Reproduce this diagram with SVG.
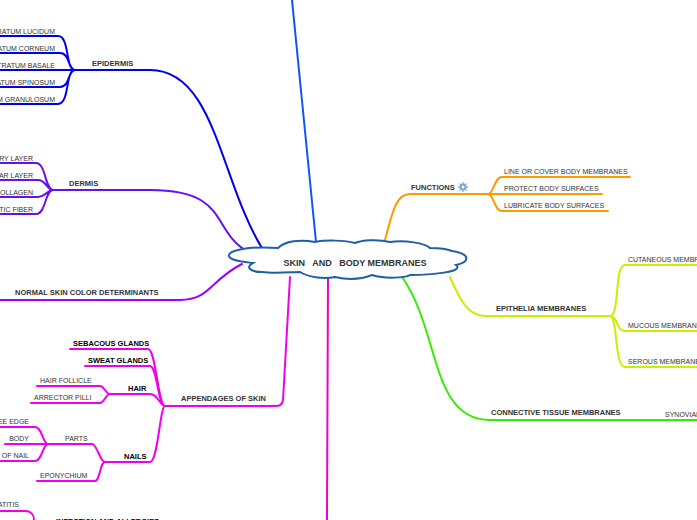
<svg xmlns="http://www.w3.org/2000/svg" width="697" height="520" viewBox="0 0 697 520">
<style>
text{font-family:"Liberation Sans",Arial,sans-serif;font-size:7px;fill:#333}
.b{font-weight:bold;font-size:7.5px}
.c path{fill:none;stroke-width:2;stroke-linecap:round}
.ep{stroke:#0000ee}.de{stroke:#6610f2}.ns{stroke:#a000ff}.ap{stroke:#ee00ee}.fu{stroke:#ff9900}.eh{stroke:#ccee00}.ct{stroke:#33ee00}.tp{stroke:#1155ee}.bt{stroke:#ee00cc}
</style>
<rect width="697" height="520" fill="#fff"/>
<g id="connectors" class="c">
<path class="tp" d="M316,242 L292,0"/>
<path class="bt" d="M328,278 L327,520"/>
<path class="ep" d="M262,248 C220,180 215,70 150,70 L75,70"/>
<path class="ep" d="M0,36 H58 C70,36 65,70 75,70 M0,53 H60 C70,53 68,70 75,70 M0,70 H75 M0,87 H60 C70,87 68,70 75,70 M0,104 H58 C70,104 65,70 75,70"/>
<path class="de" d="M248,252 C210,230 230,190 150,190 L53,190"/>
<path class="de" d="M0,163 H36 C46,163 45,190 53,190 M0,180 H38 C46,180 47,190 53,190 M0,197 H38 C46,197 47,190 53,190 M0,214 H36 C46,214 45,190 53,190"/>
<path class="ns" d="M242,264 C210,280 210,300 180,300 L0,300"/>
<path class="ap" d="M290,277 L283,400 C282,405 280,406 275,406 L165,406"/>
<path class="ap" d="M70,349 H148 C156,349 158,406 165,406 M85,366 H150 C157,366 158,406 165,406 M150,394 C158,394 160,406 165,406 M110,394 H150 M37,386 H100 C104,386 106,394 110,394 M31,403 H100 C104,403 106,394 110,394 M150,462 C158,462 160,406 165,406 M105,462 H150 M37,481 H95 C100,481 100,462 105,462 M62,444 H92 C97,444 100,462 105,462 M48,444 H62 M0,427 H35 C42,427 43,444 48,444 M5,444 H48 M0,461 H35 C42,461 43,444 48,444"/>
<path class="ap" d="M0,511 H25 C32,511 34,516 34,520"/>
<path class="fu" d="M385,240 C392,215 395,194 410,194 L488,194"/>
<path class="fu" d="M488,194 C494,194 494,177 502,177 H630 M488,194 H602 M488,194 C494,194 494,211 502,211 H608"/>
<path class="eh" d="M450,277 C460,300 468,316 485,316 L610,316"/>
<path class="eh" d="M610,316 C620,316 614,265 625,265 H697 M610,316 C618,316 616,331 625,331 H697 M610,316 C618,316 614,367 625,367 H697"/>
<path class="ct" d="M402,277 C440,330 430,420 490,420 L697,420"/>
</g>
<g id="center">
<path d="M278,248 C250,246 228,250 229,256 C230,261 245,262 253,263 C245,267 250,272 262,272 C275,274 292,272 300,272 C310,278 325,279 335,277 C348,280 362,279 372,275 C385,279 405,278 410,275 C430,275 465,272 456,265 C470,262 471,254 452,251 C445,248 435,248 430,248 C425,243 405,240 390,242 C378,239 362,240 355,243 C345,240 325,240 315,242 C300,239 285,241 278,248 Z" fill="#fff" stroke="#1f5fa8" stroke-width="2"/>
<text x="355" y="266" text-anchor="middle" class="b" style="font-size:9px" xml:space="preserve">SKIN   AND   BODY MEMBRANES</text>
</g>
<g id="epidermis"><text x="92" y="66" class="b">EPIDERMIS</text>
<text x="55" y="34" text-anchor="end">STRATUM LUCIDUM</text><text x="55" y="51" text-anchor="end">STRATUM CORNEUM</text><text x="55" y="68" text-anchor="end">STRATUM BASALE</text><text x="55" y="85" text-anchor="end">STRATUM SPINOSUM</text><text x="55" y="102" text-anchor="end">STRATUM GRANULOSUM</text></g>
<g id="dermis"><text x="69" y="186" class="b">DERMIS</text>
<text x="33" y="161" text-anchor="end">PAPILLARY LAYER</text><text x="33" y="178" text-anchor="end">RETICULAR LAYER</text><text x="33" y="195" text-anchor="end">COLLAGEN</text><text x="33" y="212" text-anchor="end">ELASTIC FIBER</text></g>
<g id="normal"><text x="15" y="295" class="b">NORMAL SKIN COLOR DETERMINANTS</text></g>
<g id="appendages"><text x="181" y="401" class="b">APPENDAGES OF SKIN</text>
<text x="73" y="346" class="b" style="fill:#000">SEBACOUS GLANDS</text><text x="88" y="363" class="b" style="fill:#000">SWEAT GLANDS</text>
<text x="128" y="391" class="b" style="fill:#000">HAIR</text><text x="40" y="383">HAIR FOLLICLE</text><text x="34" y="400">ARRECTOR PILLI</text>
<text x="124" y="459" class="b" style="fill:#000">NAILS</text><text x="65" y="441">PARTS</text><text x="40" y="478">EPONYCHIUM</text>
<text x="29" y="424" text-anchor="end">FREE EDGE</text><text x="29" y="441" text-anchor="end">BODY</text><text x="29" y="458" text-anchor="end">ROOT OF NAIL</text></g>
<g id="infection"><text x="19" y="507" text-anchor="end">DERMATITIS</text><text x="56" y="524" class="b" style="fill:#000">INFECTION AND ALLERGIES</text></g>
<g id="functions"><text x="411" y="190" class="b">FUNCTIONS</text>
<g transform="translate(463,187)" fill="#7fb0d0"><circle r="3.5"/><path d="M0,-5V5M-5,0H5M-3.5,-3.5L3.5,3.5M-3.5,3.5L3.5,-3.5" stroke="#7fb0d0" stroke-width="1.3"/><circle r="1.3" fill="#fff"/></g>
<text x="504" y="174">LINE OR COVER BODY MEMBRANES</text><text x="504" y="191">PROTECT BODY SURFACES</text><text x="504" y="208">LUBRICATE BODY SURFACES</text></g>
<g id="epithelia"><text x="496" y="311" class="b">EPITHELIA MEMBRANES</text>
<text x="628" y="262">CUTANEOUS MEMBRANE</text><text x="628" y="328">MUCOUS MEMBRANE</text><text x="628" y="364">SEROUS MEMBRANE</text></g>
<g id="connective"><text x="491" y="415" class="b">CONNECTIVE TISSUE MEMBRANES</text><text x="665" y="417">SYNOVIAL MEMBRANES</text></g>
</svg>
